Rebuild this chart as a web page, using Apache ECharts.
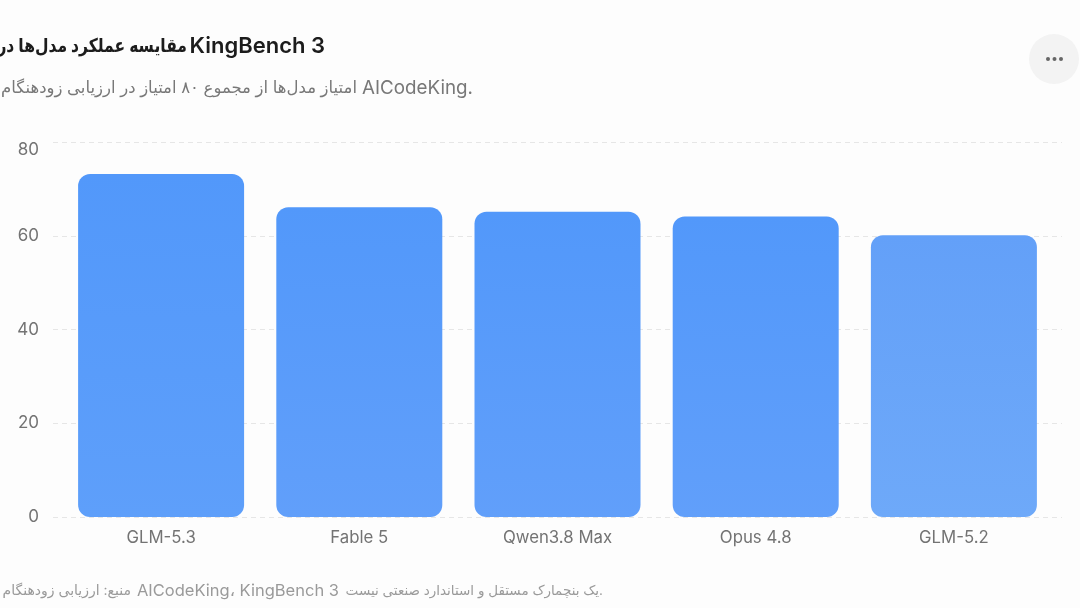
<!DOCTYPE html>
<html><head><meta charset="utf-8">
<style>html,body{margin:0;padding:0;background:#fdfdfd;overflow:hidden}#c{width:1080px;height:608px}</style>
<script src="https://cdn.jsdelivr.net/npm/echarts@6/dist/echarts.min.js"></script>
</head><body><div id="c"></div>
<script>
const categories = ['GLM-5.3','Fable 5','Qwen3.8 Max','Opus 4.8','GLM-5.2'];
const scores = [73.2,66.1,65.1,64.1,60.1];
const titleFa = 'مقایسه عملکرد مدل‌ها در';
const titleEn = 'KingBench 3';
const subtitleFa = 'امتیاز مدل‌ها از مجموع ۸۰ امتیاز در ارزیابی زودهنگام';
const subtitleEn = 'AICodeKing.';
const footerA = 'منبع: ارزیابی زودهنگام';
const footerB = 'AICodeKing، KingBench 3';
const footerC = 'یک بنچمارک مستقل و استاندارد صنعتی نیست.';
const barTop = ['#5298fa','#5298fa','#5298fa','#5298fa','#63a0f8'];
const barBottom = ['#5e9ffa','#619ffa','#619ffa','#619ffa','#6ea9f9'];
const font = 'Inter, "Noto Sans", "DejaVu Sans", sans-serif';
const chart = echarts.init(document.getElementById('c'), null, {renderer:'canvas'});
chart.setOption({
  animation:false,
  backgroundColor:'#fdfdfd',
  grid:[
    {left:53,right:18,top:142,height:375},
    {left:62,right:27,top:142,height:375}
  ],
  xAxis:[
    {gridIndex:0,type:'category',data:categories,show:false},
    {gridIndex:1,type:'category',data:categories,
      axisLine:{show:false},axisTick:{show:false},
      axisLabel:{color:'#737373',fontSize:16.8,fontFamily:font,margin:12}}
  ],
  yAxis:[
    {gridIndex:0,type:'value',min:0,max:80,interval:20,
      axisLine:{show:false},axisTick:{show:false},
      axisLabel:{color:'#737373',fontSize:17,fontFamily:font,margin:14,
        formatter:v=>v===80?'{top|80}':String(v),
        rich:{top:{color:'#737373',fontSize:17,fontFamily:font,padding:[16,0,0,0]}}},
      splitLine:{show:true,lineStyle:{color:'#e6e6e6',type:[5,4],width:1}}},
    {gridIndex:1,type:'value',min:0,max:80,interval:20,show:false,splitLine:{show:false}}
  ],
  series:[{
    type:'bar',xAxisIndex:1,yAxisIndex:1,barWidth:166,
    data:scores.map((v,i)=>({value:v,itemStyle:{
      borderRadius:12,
      color:{type:'linear',x:0,y:0,x2:0,y2:1,colorStops:[{offset:0,color:barTop[i]},{offset:1,color:barBottom[i]}]}
    }}))
  }],
  graphic:[
    {type:'text',x:325,y:46,style:{text:titleEn,align:'right',verticalAlign:'middle',font:'600 22px '+font,fill:'#1c1c1c'}},
    {type:'text',x:187,y:46,scaleX:0.82,style:{text:titleFa,align:'right',verticalAlign:'middle',font:'600 19px '+font,fill:'#1c1c1c'}},
    {type:'text',x:473,y:88,style:{text:subtitleEn,align:'right',verticalAlign:'middle',font:'400 18.8px '+font,fill:'#787878'}},
    {type:'text',x:357,y:88,style:{text:subtitleFa,align:'right',verticalAlign:'middle',font:'400 16.5px '+font,fill:'#787878'}},
    {type:'text',x:131,y:591,style:{text:footerA,align:'right',verticalAlign:'middle',font:'400 14px '+font,fill:'#9a9a9a'}},
    {type:'text',x:339,y:591,style:{text:footerB,align:'right',verticalAlign:'middle',font:'400 16.5px '+font,fill:'#9a9a9a'}},
    {type:'text',x:603,y:591,style:{text:footerC,align:'right',verticalAlign:'middle',font:'400 13.5px '+font,fill:'#9a9a9a'}},
    {type:'circle',shape:{cx:1054,cy:59,r:25},style:{fill:'#f3f3f3'}},
    {type:'circle',shape:{cx:1048,cy:59,r:2},style:{fill:'#666'}},
    {type:'circle',shape:{cx:1054.5,cy:59,r:2},style:{fill:'#666'}},
    {type:'circle',shape:{cx:1061,cy:59,r:2},style:{fill:'#666'}}
  ]
});
</script></body></html>
